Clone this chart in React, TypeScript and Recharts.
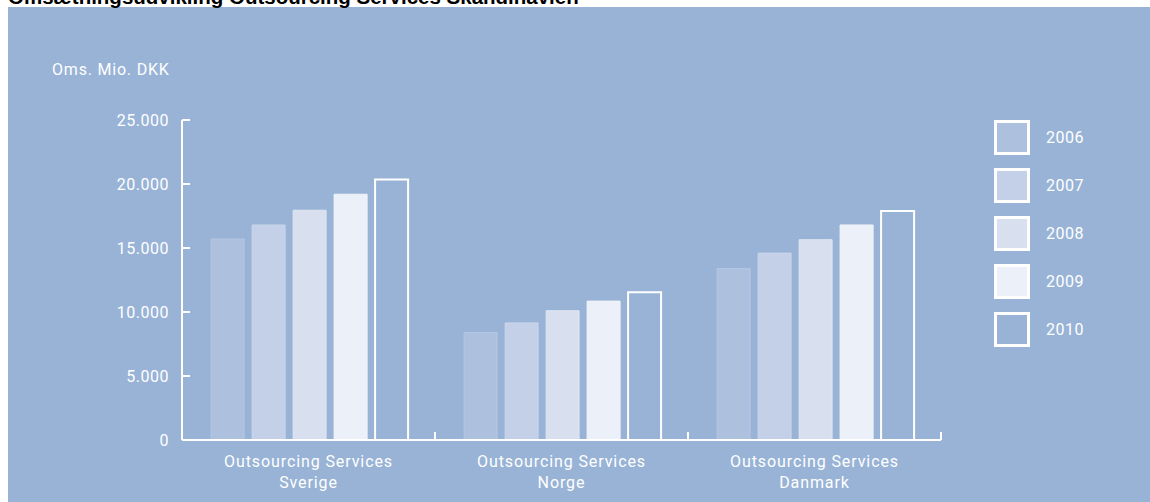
import {Bar, BarChart, XAxis, YAxis} from 'recharts';

const regions = ['Sverige', 'Norge', 'Danmark'];
const years = ['2006', '2007', '2008', '2009', '2010'];

// Omsætning, Mio. DKK
const v2006 = [15700, 8400, 13400];
const v2007 = [16800, 9150, 14600];
const v2008 = [17950, 10100, 15650];
const v2009 = [19200, 10850, 16800];
const v2010 = [20350, 11550, 17900];

const yTicks = [0, 5000, 10000, 15000, 20000, 25000];

const BG = '#98b3d6';
const FILLS = ['#adc1df', '#c3d0e7', '#d8e0ef', '#ecf0f8', BG];
const STROKES = ['#b4c6e2', '#c9d5ea', '#dde4f1', '#f0f3f9', '#ffffff'];
const FONT = 'Roboto, "DejaVu Sans Condensed", sans-serif';

const series = [v2006, v2007, v2008, v2009, v2010];
const data = regions.map((r, i) => {
  const row: Record<string, string | number> = {region: r};
  years.forEach((y, k) => {
    row[y] = series[k][i];
  });
  return row;
});

const fmt = (v: number) => v.toLocaleString('de-DE');

const YTick = (props: any) => {
  const {x, y, payload} = props;
  return (
    <g>
      <line x1={x + 13} x2={x + 21} y1={y} y2={y} stroke="#fff" strokeWidth={2} />
      <text x={x} y={y} dy={6} textAnchor="end" fill="#fff" fontSize={16} letterSpacing={0.5} fontFamily={FONT}>
        {fmt(payload.value)}
      </text>
    </g>
  );
};

// category label + the upward tick at the right edge of each band
const XTick = (props: any) => {
  const {x, y, payload, width, visibleTicksCount} = props;
  const half = width / visibleTicksCount / 2;
  return (
    <g>
      <line x1={x + half} x2={x + half} y1={y - 8} y2={y} stroke="#fff" strokeWidth={2} />
      <text x={x} y={y} dy={27} textAnchor="middle" fill="#fff" fontSize={16} letterSpacing={0.9} fontFamily={FONT}>
        Outsourcing Services
      </text>
      <text x={x} y={y} dy={48} textAnchor="middle" fill="#fff" fontSize={16} letterSpacing={0.9} fontFamily={FONT}>
        {payload.value}
      </text>
    </g>
  );
};

const LegendBoxes = () => (
  <div style={{position: 'absolute', left: 994, top: 113}}>
    {years.map((y, k) => (
      <div key={y} style={{display: 'flex', alignItems: 'center', height: 48}}>
        <div
          style={{
            width: 30,
            height: 29,
            background: FILLS[k],
            border: '3px solid #fff',
          }}
        />
        <span style={{marginLeft: 16, color: '#fff', fontSize: 16, letterSpacing: 0.5, fontFamily: FONT}}>{y}</span>
      </div>
    ))}
  </div>
);

export default function App() {
  return (
    <div style={{position: 'absolute', left: 0, top: 0, width: 1150, height: 502, overflow: 'hidden', background: '#fff'}}>
      <div style={{position: 'absolute', left: 8, top: 7, width: 1142, height: 495, background: BG}} />
      <div
        style={{
          position: 'absolute',
          left: 8,
          top: -15,
          fontFamily: '"Liberation Sans", Arial, sans-serif',
          fontWeight: 'bold',
          fontSize: 20.5,
          color: '#000',
          whiteSpace: 'nowrap',
        }}
      >
        Omsætningsudvikling Outsourcing Services Skandinavien
      </div>
      <div
        style={{
          position: 'absolute',
          left: 52,
          top: 60,
          color: '#fff',
          fontSize: 16,
          letterSpacing: 0.8,
          fontFamily: FONT,
        }}
      >
        Oms. Mio. DKK
      </div>
      <LegendBoxes />
      <div style={{position: 'absolute', left: 0, top: 0}}>
        <BarChart
          width={1150}
          height={502}
          data={data}
          margin={{top: 120, right: 209, bottom: 61, left: 0}}
          barCategoryGap="11.5%"
          barGap={8}
        >
          <XAxis
            dataKey="region"
            height={1}
            tickLine={false}
            tickSize={0}
            axisLine={{stroke: '#fff', strokeWidth: 2}}
            tick={<XTick />}
            tickMargin={0}
            interval={0}
          />
          <YAxis
            width={182}
            domain={[0, 25000]}
            ticks={yTicks}
            tickLine={false}
            tickSize={0}
            tickMargin={13}
            axisLine={{stroke: '#fff', strokeWidth: 2}}
            tick={<YTick />}
            interval={0}
          />
          {years.map((y, k) => (
            <Bar
              key={y}
              dataKey={y}
              fill={FILLS[k]}
              stroke={STROKES[k]}
              strokeWidth={k === 4 ? 2 : 1}
              isAnimationActive={false}
            />
          ))}
        </BarChart>
      </div>
    </div>
  );
}
